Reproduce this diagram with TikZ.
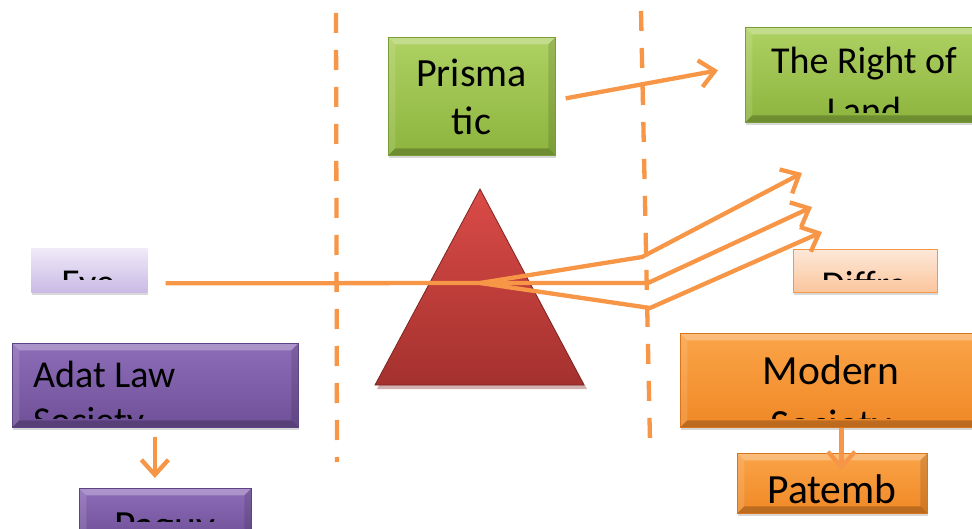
\documentclass[tikz,border=0pt]{standalone}
\usepackage{fontspec}
\setmainfont{Carlito}
\usetikzlibrary{arrows.meta,shadows}
\definecolor{rayc}{HTML}{F79646}
\definecolor{grnT}{HTML}{AED163}
\definecolor{grnB}{HTML}{8DB43E}
\definecolor{grnD}{HTML}{7A9C36}
\definecolor{purT}{HTML}{8D6DB8}
\definecolor{purB}{HTML}{6F5098}
\definecolor{purD}{HTML}{5E4485}
\definecolor{orgT}{HTML}{FAA448}
\definecolor{orgB}{HTML}{F08826}
\definecolor{orgD}{HTML}{D8741C}
\definecolor{lavT}{HTML}{EFEAF8}
\definecolor{lavB}{HTML}{CABAE5}
\definecolor{pchT}{HTML}{FDE8D9}
\definecolor{pchB}{HTML}{FBC59C}
\definecolor{redT}{HTML}{DA4B47}
\definecolor{redB}{HTML}{A4312E}
\definecolor{redD}{HTML}{7E2522}
\newcommand{\bevelfill}{%
  \coordinate (pNW) at (path picture bounding box.north west);
  \coordinate (pNE) at (path picture bounding box.north east);
  \coordinate (pSW) at (path picture bounding box.south west);
  \coordinate (pSE) at (path picture bounding box.south east);
  \fill[white,opacity=.28] (pNW) -- (pNE) -- ([shift={(-7pt,-7pt)}]pNE) -- ([shift={(7pt,-7pt)}]pNW) -- cycle;
  \fill[white,opacity=.12] (pNW) -- ([shift={(7pt,-7pt)}]pNW) -- ([shift={(7pt,7pt)}]pSW) -- (pSW) -- cycle;
  \fill[black,opacity=.22] (pSW) -- ([shift={(7pt,7pt)}]pSW) -- ([shift={(-7pt,7pt)}]pSE) -- (pSE) -- cycle;
  \fill[black,opacity=.12] (pSE) -- ([shift={(-7pt,7pt)}]pSE) -- ([shift={(-7pt,-7pt)}]pNE) -- (pNE) -- cycle;}
\tikzset{
  bx/.style={rectangle, inner sep=0pt, anchor=north west, line width=0.7pt,
    drop shadow={shadow xshift=0.5pt, shadow yshift=-3pt, opacity=.3}},
  bevel/.style={path picture={\bevelfill}},
  greenbox/.style={bx, bevel, top color=grnT, bottom color=grnB, draw=grnD},
  purplebox/.style={bx, bevel, top color=purT, bottom color=purB, draw=purD},
  orangebox/.style={bx, bevel, top color=orgT, bottom color=orgB, draw=orgD},
  lavbox/.style={bx, top color=lavT, bottom color=lavB, draw=none},
  peachbox/.style={bx, top color=pchT, bottom color=pchB, draw=rayc},
  txt/.style={inner sep=0pt, anchor=base, text=black},
  fA/.style={font=\fontsize{38pt}{46pt}\selectfont},
  fP/.style={font=\fontsize{40pt}{48pt}\selectfont},
  fB/.style={font=\fontsize{41.5pt}{49pt}\selectfont},
  rayline/.style={draw=rayc, line width=4.3pt},
  rayarrow/.style={rayline, -{Straight Barb[length=15pt,width=27pt]}},
  divider/.style={draw=rayc, line width=4.3pt, dash pattern=on 20pt off 17pt}
}
\begin{document}
\begin{tikzpicture}[x=1pt,y=-1pt]
\useasboundingbox (0,0) rectangle (972,529);
\fill[white] (0,0) rectangle (972,529);

% dividers
\coordinate (d1a) at (336,13);
\coordinate (d1b) at (337,462);
\coordinate (d2a) at (641,11);
\coordinate (d2b) at (650,442);
\draw[divider] (d1a) -- (d1b);
\draw[divider] (d2a) -- (d2b);

% prism
\fill[redD, opacity=.35] (481,192) -- (587,389) -- (377,389) -- cycle;
\path[top color=redT, bottom color=redB, draw=redD, line width=0.8pt] (480,189) -- (584,385) -- (375,385) -- cycle;

% boxes
\node[greenbox, minimum width=167pt, minimum height=118pt] (prism) at (388,37) {};
\node[greenbox, minimum width=239pt, minimum height=95pt] (land) at (745,27) {};
\node[lavbox, minimum width=116pt, minimum height=44pt] (eye) at (31,248) {};
\node[peachbox, minimum width=144pt, minimum height=43pt] (diffr) at (793,249) {};
\node[purplebox, minimum width=286pt, minimum height=84pt] (adat) at (12,343) {};
\node[purplebox, minimum width=172pt, minimum height=50pt] (pagu) at (79,488) {};
\node[orangebox, minimum width=302pt, minimum height=94pt] (modern) at (680,333) {};
\node[orangebox, minimum width=190pt, minimum height=60pt] (patemb) at (737,453) {};

% texts
\node[txt, fP] (prismA) at (471.5,87) {Prisma};
\node[txt, fP] (prismB) at (471.5,135) {tic};
\begin{scope}
  \clip (745,27) rectangle (984,113);
  \node[txt, fA] (landA) at (864,73.3) {The Right of};
  \node[txt, fA] (landB) at (864,124) {Land};
\end{scope}
\begin{scope}
  \clip (31,248) rectangle (147,280);
  \node[txt, fA] (eyeT) at (88,296) {Eye};
\end{scope}
\begin{scope}
  \clip (793,249) rectangle (937,280);
  \node[txt, fA] (diffrT) at (864,297.5) {Diffra};
\end{scope}
\begin{scope}
  \clip (12,343) rectangle (298,418);
  \node[txt, fA, anchor=base west] (adatA) at (33,387.7) {Adat Law};
  \node[txt, fA, anchor=base west] (adatB) at (33,433) {Society};
\end{scope}
\begin{scope}
  \clip (79,488) rectangle (251,521);
  \node[txt, fB] (paguT) at (164.5,539) {Paguy};
\end{scope}
\begin{scope}
  \clip (680,333) rectangle (982,418);
  \node[txt, fB] (modernA) at (831,384) {Modern};
  \node[txt, fB] (modernB) at (831,438) {Society};
\end{scope}
\node[txt, fB] (patembT) at (832,503.3) {Patemb};

% rays
\coordinate (v) at (480,283);
\coordinate (b1) at (642,257);
\coordinate (b2) at (648,283);
\coordinate (b3) at (650,308);
\coordinate (e1) at (802,173);
\coordinate (e2) at (812,207);
\coordinate (e3) at (822,232);
\draw[rayline] ([shift={(18pt,-13pt)}]eye.east) -- (v);
\draw[rayarrow] (v) -- (b1) -- (e1);
\draw[rayarrow] (v) -- (b2) -- (e2);
\draw[rayarrow] (v) -- (b3) -- (e3);

% connectors
\draw[rayarrow] ([shift={(10pt,-2pt)}]prism.east) -- ([shift={(-27pt,4.5pt)}]land.west);
\draw[rayarrow] ([shift={(-0.5pt,-9pt)}]adat.south) -- ([shift={(-0.5pt,10pt)}]adat.south |- pagu.north);
\draw[rayarrow] ([xshift=10pt]modern.south) -- ([shift={(10pt,-17pt)}]modern.south |- patemb.north);
\end{tikzpicture}
\end{document}
